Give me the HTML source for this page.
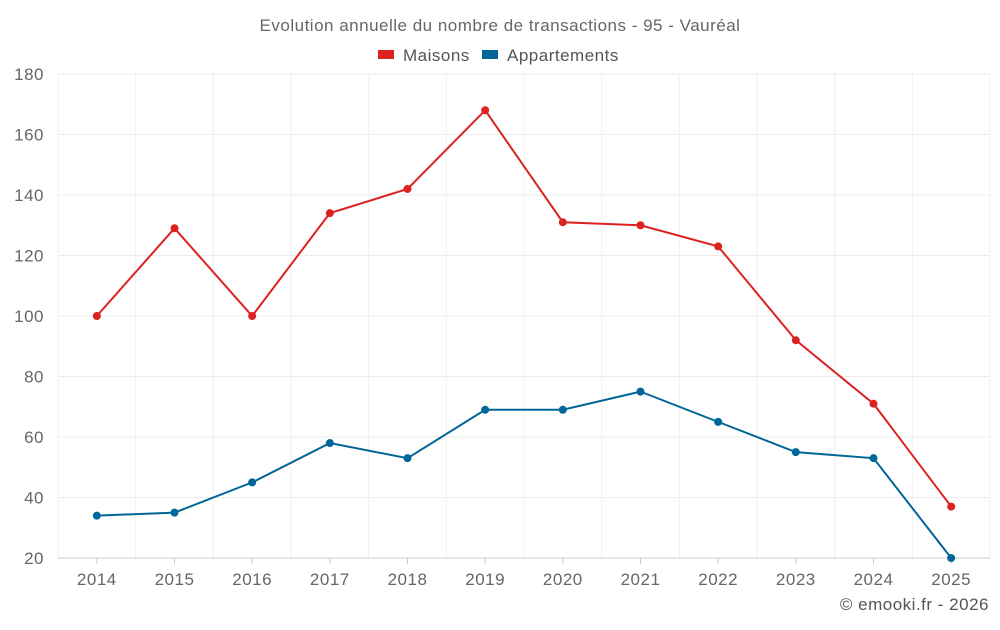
<!DOCTYPE html>
<html><head><meta charset="utf-8"><style>
html,body{margin:0;padding:0;background:#fff;}
svg text{font-family:"Liberation Sans",sans-serif;letter-spacing:0.5px;}
</style></head><body>
<svg id="chart" width="1000" height="625" xmlns="http://www.w3.org/2000/svg">
<text x="500" y="31" text-anchor="middle" font-size="17" fill="#666">Evolution annuelle du nombre de transactions - 95 - Vauréal</text>
<g>
<g><rect x="378" y="50" width="16" height="9" fill="#dd2222"/><text x="403" y="61" font-size="17" fill="#555">Maisons</text></g>
<g><rect x="482" y="50" width="16" height="9" fill="#006699"/><text x="507" y="61" font-size="17" fill="#555">Appartements</text></g>
</g>
<g id="grid"></g>
<g id="axes"></g>
<g id="series"></g>
<text x="989" y="610" text-anchor="end" font-size="17" fill="#555">© emooki.fr - 2026</text>
</svg>
<script>
const categories=["2014","2015","2016","2017","2018","2019","2020","2021","2022","2023","2024","2025"];
const maisons=[100,129,100,134,142,168,131,130,123,92,71,37];
const appartements=[34,35,45,58,53,69,69,75,65,55,53,20];
const yTicks=[20,40,60,80,100,120,140,160,180];
const NS="http://www.w3.org/2000/svg";
const L=58,R=990,T=74,B=558,yMin=20,yMax=180;
const bw=(R-L)/categories.length;
const xs=i=>L+bw*(i+0.5);
const ys=v=>B-(v-yMin)/(yMax-yMin)*(B-T);
function mk(tag,attrs,parent){const e=document.createElementNS(NS,tag);for(const k in attrs)e.setAttribute(k,attrs[k]);parent.appendChild(e);return e;}
const grid=document.getElementById('grid'),axes=document.getElementById('axes'),series=document.getElementById('series');
yTicks.forEach(v=>{
 const l=mk('line',{x1:L,x2:R,y1:ys(v),y2:ys(v),stroke:'#ececec','stroke-width':1},grid);
 
 
 const t=mk('text',{x:44,y:ys(v)+6,'text-anchor':'end','font-size':17,fill:'#666'},axes);
 t.textContent=v;
 
 
});
for(let i=0;i<=categories.length;i++){
 const g=mk('line',{x1:L+bw*i,x2:L+bw*i,y1:T,y2:B,stroke:'#f0f0f0','stroke-width':1},grid);
 
 
}
categories.forEach((c,i)=>{
 const t=mk('text',{x:xs(i),y:585,'text-anchor':'middle','font-size':17,fill:'#666'},axes);
 t.textContent=c;
 
 
 const tk=mk('line',{x1:xs(i),x2:xs(i),y1:B,y2:B+6,stroke:'#ccc'},axes);
 
 
});
const ax=mk('line',{x1:L,x2:R,y1:B,y2:B,stroke:'#ccc'},axes);


function draw(data,color,name){
 const p=mk('polyline',{points:data.map((v,i)=>xs(i)+','+ys(v)).join(' '),fill:'none',stroke:color,'stroke-width':2},series);
 
 
 data.forEach((v,i)=>{
  const c=mk('circle',{cx:xs(i),cy:ys(v),r:4,fill:color},series);
  
  
 });
}
draw(maisons,'#dd2222','maisons');
draw(appartements,'#006699','appartements');
</script>
</body></html>
